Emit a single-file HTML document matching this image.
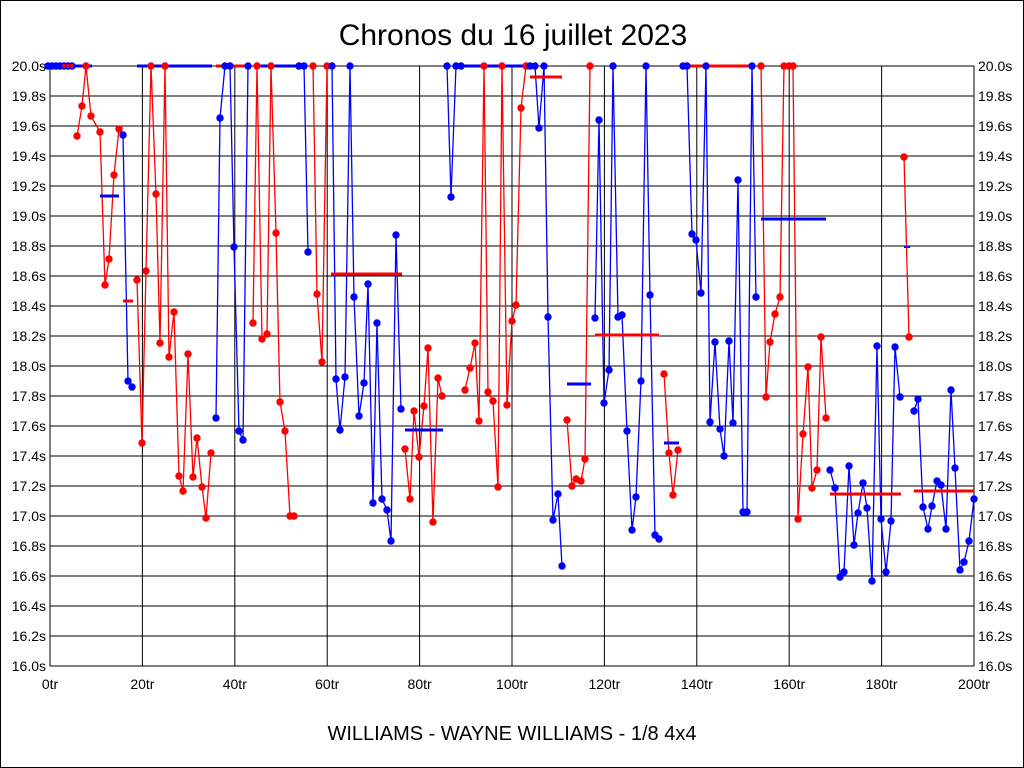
<!DOCTYPE html>
<html><head><meta charset="utf-8"><style>
html,body{margin:0;padding:0;background:#fff}
svg{display:block}
text{font-family:"Liberation Sans",Arial,sans-serif}
</style></head><body>
<svg id="s" width="1024" height="768" xmlns="http://www.w3.org/2000/svg">
<rect x="0.5" y="0.5" width="1023" height="767" fill="#fff" stroke="#000"/>
<text x="513" y="45" font-size="30" text-anchor="middle">Chronos du 16 juillet 2023</text>
<text x="512" y="740" font-size="20" text-anchor="middle">WILLIAMS - WAYNE WILLIAMS - 1/8 4x4</text>
<g id="grid"></g>
<g id="data"></g>
</svg>
<script>
var NS="http://www.w3.org/2000/svg";
function el(p,t,a,txt){var e=document.createElementNS(NS,t);for(var k in a)e.setAttribute(k,a[k]);if(txt!=null)e.textContent=txt;p.appendChild(e);return e;}
var g=document.getElementById('grid');
for(var i=0;i<=20;i++){var y=66+i*30;var v=(20-i*0.2).toFixed(1)+'s';
 el(g,'line',{x1:50,x2:974,y1:y,y2:y,stroke:'#000','stroke-width':1});
 el(g,'text',{x:46,y:y+5,'font-size':14,'text-anchor':'end'},v);
 el(g,'text',{x:978,y:y+5,'font-size':14},v);}
for(var j=0;j<=10;j++){var x=50+j*92.4;
 el(g,'line',{x1:x,x2:x,y1:66,y2:666,stroke:'#000','stroke-width':1});
 el(g,'text',{x:x,y:689,'font-size':14,'text-anchor':'middle'},(j*20)+'tr');}
var B='#0000ff',R='#ff0000';
var d=document.getElementById('data');
function hl(c,x1,x2,y,w){el(d,'line',{x1:x1,x2:x2,y1:y,y2:y,stroke:c,'stroke-width':w||3});}
hl(B,48,92,66);hl(B,137,212,66);hl(R,216,247,66);hl(B,257,300,66);hl(B,462,527,66);hl(R,687,755,66);
var S=[
[B,[[48,66],[52,66],[56,66],[60,66],[64,66],[68,66],[72,66]]],
[R,[[77,136],[82,106],[86,66],[91,116],[100,132],[105,285],[109,259],[114,175],[119,129]]],
[B,[[123,135],[128,381],[132,387]]],
[R,[[137,280],[142,443],[146,271],[151,66],[156,194],[160,343],[165,66],[169,357],[174,312],[179,476],[183,491],[188,354],[193,477],[197,438],[202,487],[206,518],[211,453]]],
[B,[[216,418],[220,118],[225,66],[230,66],[234,247],[239,431],[243,440],[248,66]]],
[R,[[253,323],[257,66],[262,339],[267,334],[271,66],[276,233],[280,402],[285,431],[290,516],[294,516]]],
[B,[[299,66],[304,66],[308,252]]],
[R,[[313,66],[317,294],[322,362],[327,66]]],
[B,[[332,66],[336,379],[340,430],[345,377],[350,66],[354,297],[359,416],[364,383],[368,284],[373,503],[377,323],[382,499],[387,510],[391,541],[396,235],[401,409]]],
[R,[[405,449],[410,499],[414,411],[419,457],[424,406],[428,348],[433,522],[438,378],[442,396]]],
[B,[[447,66],[451,197],[456,66],[461,66]]],
[R,[[465,390],[470,368],[475,343],[479,421],[484,66],[488,392],[493,401],[498,487],[502,66],[507,405],[512,321],[516,305],[521,108],[526,66]]],
[B,[[530,66],[535,66],[539,128],[544,66],[548,317],[553,520],[558,494],[562,566]]],
[R,[[567,420],[572,486],[576,479],[581,481],[585,459],[590,66]]],
[B,[[595,318],[599,120],[604,403],[609,370],[613,66],[618,317],[622,315],[627,431],[632,530],[636,497],[641,381],[646,66],[650,295],[655,535],[659,539]]],
[R,[[664,374],[669,453],[673,495],[678,450]]],
[B,[[683,66],[687,66],[692,234],[696,240],[701,293],[706,66],[710,422],[715,342],[720,429],[724,456],[729,341],[733,423],[738,180],[743,512],[747,512],[752,66],[756,297]]],
[R,[[761,66],[766,397],[770,342],[775,314],[780,297],[784,66],[789,66],[793,66],[798,519],[803,434],[808,367],[812,488],[817,470],[821,337],[826,418]]],
[B,[[830,470],[835,488],[840,577],[844,572],[849,466],[854,545],[858,513],[863,483],[867,508],[872,581],[877,346],[881,519],[886,572],[891,521],[895,347],[900,397]]],
[R,[[904,157],[909,337]]],
[B,[[914,411],[918,399],[923,507],[928,529],[932,506],[937,481],[941,485],[946,529],[951,390],[955,468],[960,570],[964,562],[969,541],[974,499]]]
];
S.forEach(function(s){
 el(d,'polyline',{points:s[1].map(function(p){return p.join(',')}).join(' '),fill:'none',stroke:s[0],'stroke-width':1.3});
 s[1].forEach(function(p){el(d,'circle',{cx:p[0],cy:p[1],r:3.7,fill:s[0]});});
});
[[R,64],[R,68],[R,72]].forEach(function(m){el(d,'rect',{x:m[1]-1.5,y:64,width:3,height:4,fill:m[0]});});
hl(B,100,119,196);hl(R,123,133,301);hl(R,331,402,274);hl(B,405,443,430);hl(R,530,562,77);
hl(B,567,591,384);hl(R,595,659,335);hl(B,664,679,443);hl(B,761,826,219);hl(R,830,901,494);
hl(B,904,910,247,2);hl(R,914,974,491);
</script>
</body></html>
